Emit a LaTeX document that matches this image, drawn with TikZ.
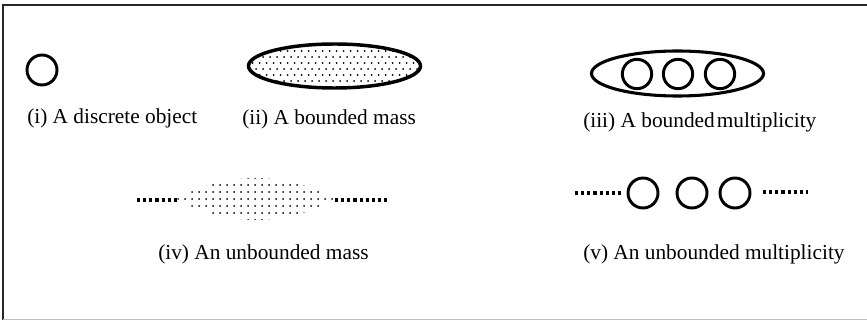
\documentclass[tikz,border=0pt]{standalone}
\usepackage{fontspec}
\setmainfont{Liberation Serif}
\begin{document}
\begin{tikzpicture}[x=0.75pt,y=-0.75pt,
  lbl/.style={anchor=base west,inner sep=0pt,font=\fontsize{16}{19}\selectfont},
  obj/.style={circle,draw,line width=2.2pt,inner sep=0pt,minimum size=22.5pt},
  thick ellipse/.style={line width=2.6pt},
  dotline/.style={line width=2.4pt,dash pattern=on 2.4pt off 2.2pt},
  speck/.style={fill=black}]
\useasboundingbox (0,0) rectangle (867,320);
% frame
\draw[line width=1.8pt,black!85] (3,320) -- (3,5) -- (867,5);
\draw[line width=1pt,black!25] (3,319.5) -- (867,319.5);

% (i)
\node[obj] (c1) at (42,70) {};
\node[lbl] (t1) at (27,124) {(i) A discrete object};

% (ii)
\begin{scope}
  \clip (334.5,66) ellipse [x radius=86, y radius=22];
  \foreach \r in {0,...,8}{
    \pgfmathsetmacro\yy{45+6*\r}
    \pgfmathsetmacro\xo{249+3.5*mod(\r,2)}
    \foreach \k in {0,...,25}{\fill[speck] (\xo+7*\k,\yy) circle[radius=0.75pt];}
  }
\end{scope}
\draw[thick ellipse] (334.5,66) ellipse [x radius=86, y radius=22];
\node[lbl] (t2) at (242,125) {(ii) A bounded mass};

% (iii)
\draw[line width=2.3pt] (677.5,73.5) ellipse [x radius=86, y radius=22.5];
\node[obj,minimum size=22pt] (c3a) at (637,74) {};
\node[obj,minimum size=22pt] (c3b) at (678,74) {};
\node[obj,minimum size=22pt] (c3c) at (720,74) {};
\node[lbl] (t3) at (583,128) {(iii) A bounded\hspace{1.5pt}multiplicity};

% (iv)
\coordinate (m4l) at (177,200);
\coordinate (m4r) at (335,200);
\coordinate (d4l) at (137,200);
\coordinate (d4r) at (388,200);
\begin{scope}
  \clip (177,199) .. controls (225,171) and (287,171) .. (335,199)
        .. controls (287,227) and (225,227) .. (177,199) -- cycle;
  \foreach \x in {178,185,...,336}{
    \foreach \y in {178,185,...,221}{\fill[speck] (\x,\y) circle[radius=0.75pt];}
  }
\end{scope}
\draw[dotline] (d4l) -- (m4l);
\draw[dotline] (m4r) -- (d4r);
\node[lbl] (t4) at (158,260) {(iv) An unbounded mass};

% (v)
\coordinate (d5l) at (575,193);
\coordinate (d5r) at (808,192);
\node[obj,minimum size=22.5pt] (c5a) at (643,193) {};
\node[obj,minimum size=22.5pt] (c5b) at (692,193) {};
\node[obj,minimum size=22.5pt] (c5c) at (735,193) {};
\coordinate (e5l) at (621,193);
\coordinate (e5r) at (763,192);
\draw[dotline] (d5l) -- (e5l);
\draw[dotline] (e5r) -- (d5r);
\node[lbl] (t5) at (583,260) {(v) An unbounded multiplicity};
\end{tikzpicture}
\end{document}
